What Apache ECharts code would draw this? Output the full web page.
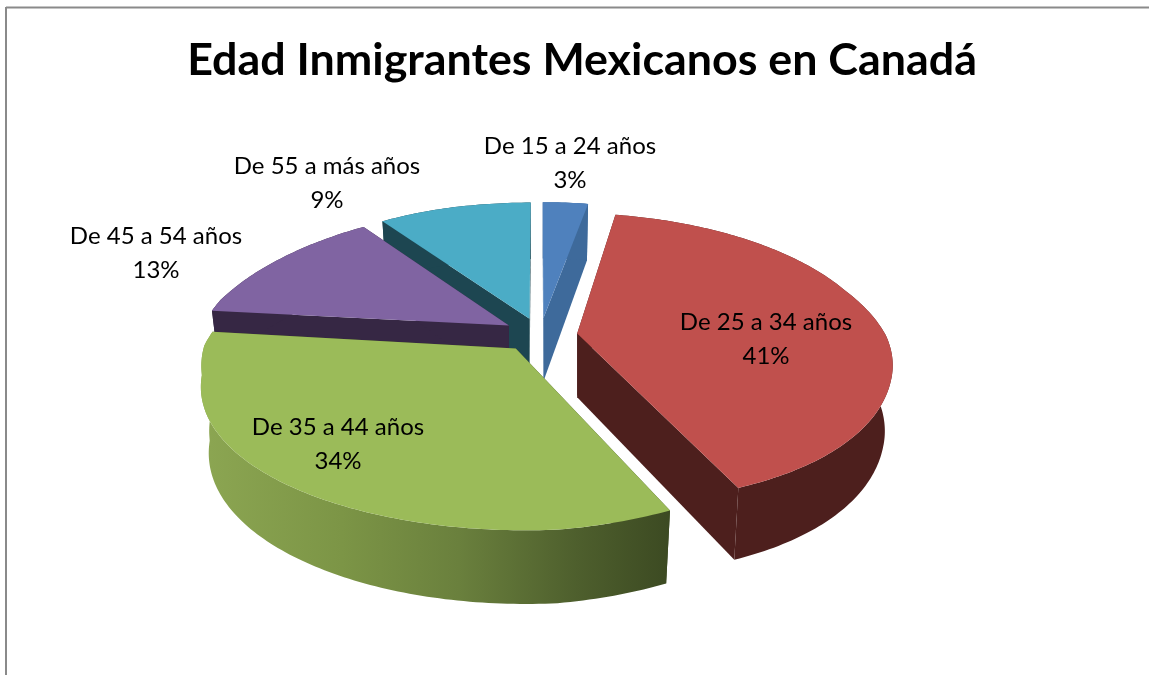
<!DOCTYPE html>
<html>
<head>
<meta charset="utf-8">
<title>Edad Inmigrantes Mexicanos en Canadá</title>
<script src="https://cdn.jsdelivr.net/npm/echarts@6/dist/echarts.min.js"></script>
<style>
  html, body { margin: 0; padding: 0; background: #fff; }
  #chart { width: 1149px; height: 675px; }
</style>
</head>
<body>
<div id="chart"></div>
<script>
// Age groups and their share of Mexican immigrants in Canada, in percent
const categories = ['De 15 a 24 años', 'De 25 a 34 años', 'De 35 a 44 años', 'De 45 a 54 años', 'De 55 a más años'];
const shares = [3, 41, 34, 13, 9];

const topColors = ['#4f81bd', '#c0504d', '#9bbb59', '#8064a2', '#4bacc6'];
const sideColors = ['#3e6a9b', '#4d1f1d', null, '#362744', '#1d4651'];
const paintOrder = [4, 3, 0, 1, 2];
const labelCentres = [[570, 163], [766, 339], [338, 444], [156, 253], [327, 183]];

// Perspective pie: unit disc coordinates are projected on to the page
const view = { cx: 540, cy: 335, rx: 313, ry: 143, persp: 0.183, explode: 0.12, depth: 64 };

function project(X, Y) {
  const w = 1 / (1 - view.persp * Y);
  const front = Math.max(Y, 0);
  const right = Math.max(X, 0);
  const left = Math.max(-X, 0);
  // Small skew terms so the disc leans the way a rotated 3D pie does
  const skew = (15 + 8 * right) * front * front;
  const tuck = 8 * left * left * Math.min(1, front * 5);
  const lean = 6 * Math.min(1, Math.abs(X) * 3) * Math.min(1, Math.max(-Y, 0) * 3);
  const sag = 9 * left * left;
  const lift = 5 * Math.min(1, right * 3) * Math.min(1, front * 3);
  return [
    view.cx + view.rx * X * w * (1 - 0.012 * right) + skew + tuck - lean,
    view.cy + view.ry * Y * w + sag - lift
  ];
}
const polar = a => [Math.sin(a), -Math.cos(a)];
const total = shares.reduce((s, v) => s + v, 0);

function sliceShape(index) {
  let start = 0;
  for (let i = 0; i < index; i++) start += shares[i] / total * Math.PI * 2;
  const end = start + shares[index] / total * Math.PI * 2;
  const mid = polar((start + end) / 2);
  const off = [mid[0] * view.explode, mid[1] * view.explode];
  const apex = project(off[0], off[1]);
  const lower = (X, Y) => {
    const p = project(X, Y);
    return [apex[0] + (p[0] - apex[0]) * 0.975, p[1] + view.depth / (1 - 0.12 * Y)];
  };
  const top = [], bottom = [];
  const steps = Math.max(4, Math.ceil((end - start) * 60));
  for (let k = 0; k <= steps; k++) {
    const d = polar(start + (end - start) * k / steps);
    top.push(project(off[0] + d[0], off[1] + d[1]));
    bottom.push(lower(off[0] + d[0], off[1] + d[1]));
  }
  const apexLow = lower(off[0], off[1]);
  return { apex, apexLow, top, bottom };
}

const sideFill = index => sideColors[index] || new echarts.graphic.LinearGradient(0, 0, 1, 0, [
  { offset: 0, color: '#8ca652' },
  { offset: 0.3, color: '#7c9546' },
  { offset: 0.55, color: '#6a803d' },
  { offset: 0.8, color: '#4e5f2d' },
  { offset: 1, color: '#3c4a22' }
]);

function renderSlice(params, api) {
  const index = api.value(0);
  const s = sliceShape(index);
  const n = s.top.length - 1;
  const poly = (points, fill) => ({ type: 'polygon', shape: { points }, style: { fill }, silent: true });
  const side = index === 2 ? '#3c4a22' : sideColors[index];
  const [lx, ly] = labelCentres[index];
  return {
    type: 'group',
    children: [
      poly([s.apex, s.top[0], s.bottom[0], s.apexLow], side),
      poly([s.apex, s.top[n], s.bottom[n], s.apexLow], side),
      poly(s.top.concat(s.bottom.slice().reverse()), sideFill(index)),
      poly([s.apex].concat(s.top), topColors[index]),
      {
        type: 'text',
        silent: true,
        style: {
          x: lx, y: ly,
          text: categories[index] + '\n' + shares[index] + '%',
          align: 'center', verticalAlign: 'middle',
          fontFamily: 'Lato', fontSize: 24, lineHeight: 34, fill: '#000'
        }
      }
    ]
  };
}

const chart = echarts.init(document.getElementById('chart'), null, { renderer: 'canvas' });
chart.setOption({
  animation: false,
  backgroundColor: '#fff',
  title: {
    text: 'Edad Inmigrantes Mexicanos en Canadá',
    left: 577, top: 33, textAlign: 'center',
    textStyle: { fontFamily: 'Lato', fontWeight: 'bold', fontSize: 44.8, color: '#000' }
  },
  graphic: [
    { type: 'line', shape: { x1: 6, y1: 7.5, x2: 1149, y2: 7.5 }, style: { stroke: '#8a8a8a', lineWidth: 2 } },
    { type: 'line', shape: { x1: 6, y1: 7, x2: 6, y2: 675 }, style: { stroke: '#8a8a8a', lineWidth: 2 } }
  ],
  series: [{
    type: 'custom',
    coordinateSystem: 'none',
    renderItem: renderSlice,
    data: paintOrder.map(i => [i, shares[i]])
  }]
});
</script>
</body>
</html>
